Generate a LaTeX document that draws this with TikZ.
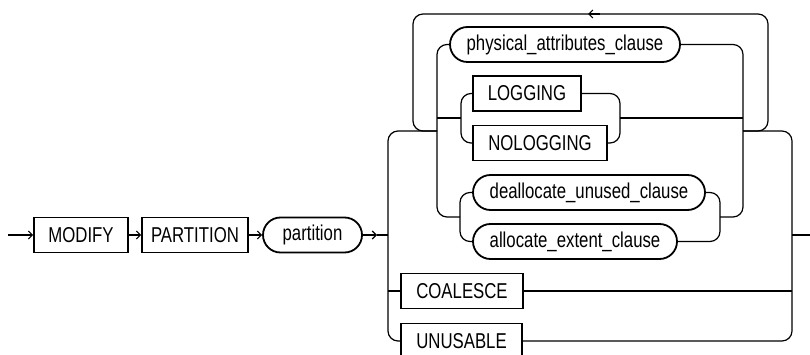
\documentclass[tikz,border=0pt]{standalone}
\usepackage{fontspec}
\setmainfont{Liberation Sans}
\newfontfamily\diagfont[FakeStretch=0.78]{Liberation Sans}
\usetikzlibrary{arrows.meta}
\begin{document}
\begin{tikzpicture}[x=1pt,y=-1pt,
  conn/.style={line width=1.2pt},
  rc/.style={conn,rounded corners=10pt},
  arr/.style={conn,-{Straight Barb[length=4pt,width=8pt,line width=1.1pt]}},
  kw/.style={draw,line width=1.8pt,rectangle,minimum height=35pt,inner sep=0pt,
    font=\diagfont\fontsize{21.5}{24}\selectfont},
  nt/.style={draw,line width=1.8pt,rectangle,rounded corners=17.5pt,minimum height=35pt,inner sep=0pt,
    font=\diagfont\fontsize{21.5}{24}\selectfont}]
\useasboundingbox (0,0) rectangle (810,355);
\clip (0,0) rectangle (810,355);
% main line nodes
\node[kw,minimum width=94pt] (modify) at (81,235) {MODIFY};
\node[kw,minimum width=106pt] (partkw) at (195,235) {PARTITION};
\node[nt,minimum width=99pt] (partnt) at (312.5,235) {partition};
% inner nodes
\node[nt,minimum width=230pt] (pac) at (565,44.5) {physical\_attributes\_clause};
\node[kw,minimum width=108pt] (logging) at (527,93.5) {LOGGING};
\node[kw,minimum width=134pt] (nologging) at (540,143) {NOLOGGING};
\node[nt,minimum width=232pt] (dealloc) at (589,192.5) {deallocate\_unused\_clause};
\node[nt,minimum width=204pt] (alloc) at (575,241.5) {allocate\_extent\_clause};
\node[kw,minimum width=122pt] (coalesce) at (462,291) {COALESCE};
\node[kw,minimum width=121pt] (unusable) at (461.5,341) {UNUSABLE};
% coordinates
\coordinate (start) at (8,235);
\coordinate (pre) at (377,235);
\coordinate (lj) at (388,235);
\coordinate (rj) at (792,235);
\coordinate (end) at (810,235);
\coordinate (lt) at (388,131);
\coordinate (ia) at (437,131);
\coordinate (ib) at (743,131);
\coordinate (rt) at (792,131);
\coordinate (lb) at (388,341);
\coordinate (rb) at (792,341);
% main line
\draw[arr] (start) -- (modify.west);
\draw[arr] (modify.east) -- (partkw.west);
\draw[arr] (partkw.east) -- (partnt.west);
\draw[arr] (partnt.east) -- (pre);
\draw[conn] (pre) -- (lj);
\draw[conn] (rj) -- (end);
% outer rails
\draw[rc] (ia) -- (lt) -- (lb) -- (unusable.west);
\draw[conn] (coalesce.west -| lj) -- (coalesce.west);
\draw[rc] (unusable.east) -- (rb) -- (rt) -- (ib);
\draw[conn] (coalesce.east) -- (coalesce.east -| rj);
% inner group rails
\coordinate (il) at (437,217);
\coordinate (ir) at (743,217);
\draw[rc] (pac.west) -| (il) -- (460,217);
\draw[rc] (pac.east) -| (ir) -- (720,217);
% logging subgroup
\coordinate (ll) at (461,118);
\coordinate (lr) at (620,118);
\draw[rc] (logging.west) -| (461,143) -- (nologging.west);
\draw[rc] (logging.east) -| (620,143) -- (nologging.east);
\draw[conn] (437,118) -- (ll);
\draw[conn] (lr) -- (743,118);
% allocate subgroup
\draw[rc] (dealloc.west) -| (460,241.5) -- (alloc.west);
\draw[rc] (dealloc.east) -| (720,241.5) -- (alloc.east);
% loop back
\draw[rc] (ib) -- (768,131) -- (768,14) -- (413,14) -- (413,131) -- (ia);
\draw[arr] (600,14) -- (588,14);
\end{tikzpicture}
\end{document}
